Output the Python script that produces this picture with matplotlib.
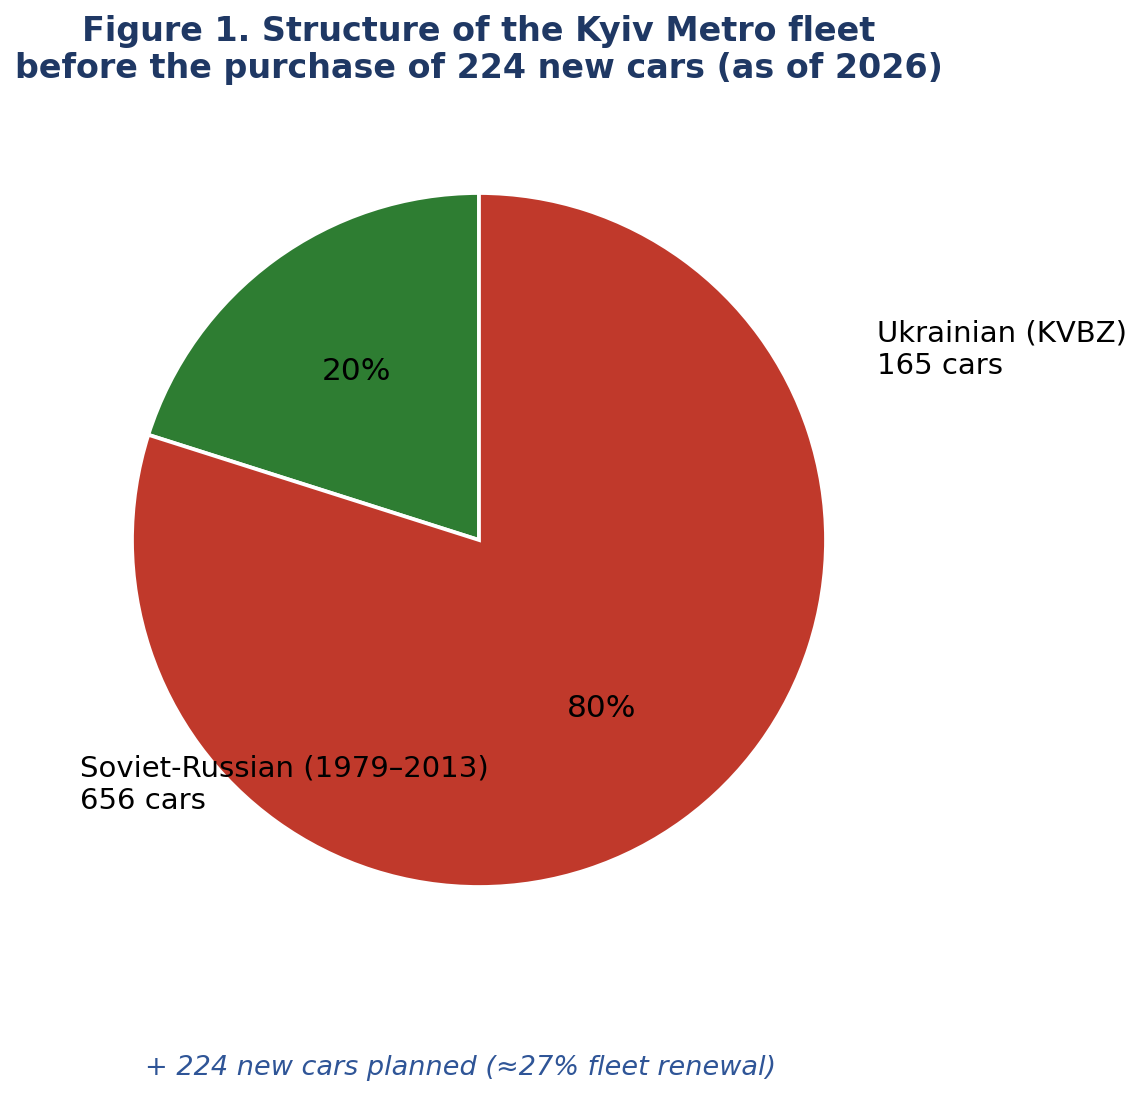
import matplotlib
matplotlib.use("Agg")
import matplotlib.pyplot as plt

categories = ["Ukrainian (KVBZ)", "Soviet-Russian (1979–2013)"]
cars = [165, 656]
colors = ["#2e7d32", "#c0392b"]
title = "Figure 1. Structure of the Kyiv Metro fleet\nbefore the purchase of 224 new cars (as of 2026)"
note = "+ 224 new cars planned (≈27% fleet renewal)"

W, H = 1142, 1096
dpi = 150
fig = plt.figure(figsize=(W / dpi, H / dpi), dpi=dpi)

# axes positioned so that the pie centre is at (479, 540) px and radius ~346 px
cx, cy, r = 479, 540, 347
half = 1.25 * r
ax = fig.add_axes([(cx - half) / W, (H - cy - half) / H, 2 * half / W, 2 * half / H])

wedges, texts, autotexts = ax.pie(
    cars, colors=colors, startangle=90, counterclock=True,
    autopct="%1.0f%%", pctdistance=0.6,
    wedgeprops=dict(edgecolor="white", linewidth=1.8),
    textprops=dict(fontsize=15, color="black"),
)
ax.set_xlim(-1.25, 1.25)
ax.set_ylim(-1.25, 1.25)
ax.set_aspect("equal")

ax.text(1.148, 0.547, f"{categories[0]}\n{cars[0]} cars", fontsize=14,
        ha="left", va="center")
ax.text(-1.150, -0.705, f"{categories[1]}\n{cars[1]} cars", fontsize=14,
        ha="left", va="center")

fig.text(cx / W, 1 - 50 / H, title, ha="center", va="center",
         fontsize=16, fontweight="bold", color="#1f3864", linespacing=1.15)
fig.text(461 / W, 1 - 1068 / H, note, ha="center", va="center",
         fontsize=13, style="italic", color="#2f5597")

fig.savefig("out.png", dpi=dpi)
